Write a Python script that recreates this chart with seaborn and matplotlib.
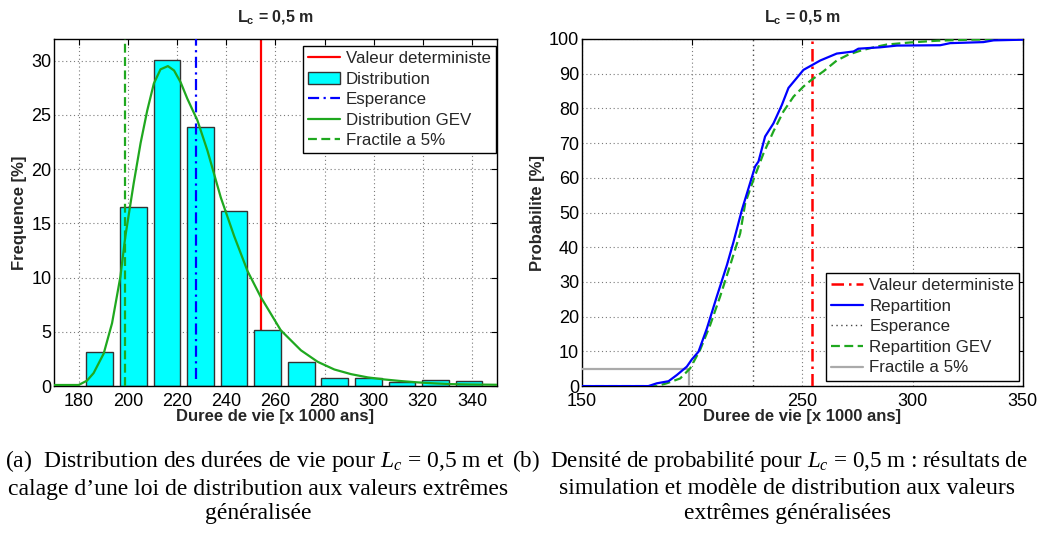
import matplotlib
matplotlib.use("Agg")
import matplotlib.pyplot as plt
from matplotlib.lines import Line2D
from matplotlib.patches import Patch
import pandas as pd
import seaborn as sns

# --- data ---
bin_centers = [188.6, 202.3, 215.9, 229.6, 243.2, 256.9, 270.6, 284.2, 297.9, 311.5, 325.2, 338.8]
freq_pct = [3.1, 16.5, 30.1, 23.9, 16.1, 5.15, 2.25, 0.7, 0.7, 0.4, 0.6, 0.5]

gev_pdf_x = [170, 180, 183.4, 186.1, 190.2, 193.6, 197.0, 199.0, 202.4, 205.2, 207.9, 210.6,
             213.3, 216.3, 218.8, 221.5, 224.2, 228.3, 232.4, 237.8, 243.3, 248.7, 254.1,
             262.2, 270.4, 277.2, 284.0, 290.8, 297.6, 304.4, 311.2, 318.0, 324.8, 331.6, 338.4, 350]
gev_pdf_y = [0.1, 0.1, 0.5, 1.2, 3.0, 5.8, 10.1, 13.8, 18.7, 22.4, 25.4, 27.9,
             29.2, 29.5, 29.1, 28.0, 26.5, 24.5, 21.7, 17.4, 13.8, 10.6, 8.2,
             5.15, 3.3, 2.24, 1.53, 1.1, 0.8, 0.61, 0.46, 0.34, 0.25, 0.18, 0.15, 0.12]

cdf_x = [150, 180.2, 184.0, 189.3, 193.1, 197.6, 199.9, 202.9, 206.7, 211.2, 215.8, 218.8,
         222.6, 226.3, 228.6, 230.1, 233.1, 236.9, 240.7, 243.7, 247.5, 250.5, 253.9,
         258.1, 265.6, 273.2, 275.4, 285.3, 292.9, 312.5, 317.0, 332.1, 336.7, 350]
cdf_y = [0, 0, 0.8, 1.4, 3.2, 5.6, 7.7, 9.9, 16.6, 25.8, 34.9, 41.6,
         50.8, 58.5, 63.3, 64.7, 71.9, 75.7, 81.0, 85.9, 88.8, 91.1, 92.3,
         93.8, 95.8, 96.4, 97.2, 97.6, 98.1, 98.2, 98.8, 99.1, 99.6, 99.8]

gev_cdf_x = [150, 184, 188.5, 194.6, 199.1, 203.6, 208.2, 212.7, 217.3, 221.8, 224.1, 227.8,
             232.4, 236.9, 241.4, 246.0, 250.5, 253.9, 259.6, 265.6, 270.9, 276.2, 282.3,
             288.3, 298.9, 311.0, 326.1, 350]
gev_cdf_y = [0, 0, 0.8, 2.2, 5.1, 10.4, 17.6, 25.8, 34.9, 44.0, 52.7, 59.4,
             67.1, 73.4, 79.1, 83.4, 86.3, 88.1, 90.7, 93.8, 95.5, 96.6, 97.6,
             98.4, 99.0, 99.5, 99.8, 100]

valeur_det = 254.2
esperance = 227.6
fractile_5 = 198.8
fractile_level = 5

sns.set_theme(style="white")
plt.rcParams["font.family"] = ["Liberation Sans", "DejaVu Sans"]
plt.rcParams["mathtext.fontset"] = "custom"
plt.rcParams["mathtext.rm"] = "Liberation Sans"
plt.rcParams["mathtext.bf"] = "Liberation Sans:bold"
plt.rcParams["mathtext.it"] = "Liberation Serif:italic"

fig = plt.figure(figsize=(10.39, 5.34), dpi=100)
ax1 = fig.add_axes([0.052, 0.277, 0.426, 0.650])
ax2 = fig.add_axes([0.560, 0.277, 0.4245, 0.650])

grid_kw = dict(color="#7a7a7a", linestyle=(0, (1, 2.5)), linewidth=0.8)
green = "#1fa81f"
tick_fs = 13
lab_fs = 12
leg_fs = 12.2
leg_kw = dict(fontsize=leg_fs, frameon=True, fancybox=False, edgecolor="black", framealpha=1,
              handlelength=1.9, handletextpad=0.35, labelspacing=0.33, borderpad=0.3,
              borderaxespad=0)


def style_axes(ax):
    ax.grid(True, **grid_kw)
    ax.set_axisbelow(True)
    for s in ax.spines.values():
        s.set_color("black")
        s.set_linewidth(1.0)
    ax.tick_params(direction="in", top=True, right=True, length=4, width=0.8,
                   labelsize=tick_fs, pad=2, colors="black")
    ax.tick_params(axis="x", pad=5)


# --- left: histogram + GEV pdf ---
ax1.axvline(valeur_det, color="red", linewidth=1.6, zorder=1)
hist_df = pd.DataFrame({"x": bin_centers, "y": freq_pct})
sns.barplot(data=hist_df, x="x", y="y", native_scale=True, width=0.8,
            color="#00ffff", saturation=1, edgecolor="#333333", linewidth=1.0, ax=ax1, zorder=2)
ax1.axvline(esperance, color="blue", linewidth=1.6, linestyle=(0, (5, 2, 1, 2)), ymin=0.02, zorder=3)
sns.lineplot(x=gev_pdf_x, y=gev_pdf_y, color=green, linewidth=1.6, ax=ax1, zorder=4)
ax1.axvline(fractile_5, color=green, linewidth=1.6, linestyle=(0, (4, 2)), zorder=4)
ax1.set_xlim(170, 350)
ax1.set_ylim(0, 32)
ax1.set_xticks(range(180, 341, 20))
ax1.set_yticks(range(0, 31, 5))
style_axes(ax1)
ax1.set_xlabel("Duree de vie [x 1000 ans]", fontsize=lab_fs, fontweight="bold", labelpad=-1)
ax1.set_ylabel("Frequence [%]", fontsize=lab_fs, fontweight="bold", labelpad=3)
ax1.set_title(r"$\mathbf{L_c}$ = 0,5 m", fontsize=11.5, fontweight="bold", pad=12)

h1 = [Line2D([], [], color="red", lw=1.6),
      Patch(facecolor="#00ffff", edgecolor="#333333"),
      Line2D([], [], color="blue", lw=1.6, ls=(0, (5, 2, 1, 2))),
      Line2D([], [], color=green, lw=1.6),
      Line2D([], [], color=green, lw=1.6, ls=(0, (4, 2)))]
l1 = ["Valeur deterministe", "Distribution", "Esperance", "Distribution GEV", "Fractile a 5%"]
leg1 = ax1.legend(h1, l1, loc="upper right", bbox_to_anchor=(0.9985, 0.98), **leg_kw)
leg1.get_frame().set_linewidth(1.0)

# --- right: CDFs ---
ax2.axvline(valeur_det, color="red", linewidth=1.8, linestyle=(0, (5, 2, 1, 2)), zorder=3)
sns.lineplot(x=cdf_x, y=cdf_y, color="blue", linewidth=1.6, ax=ax2, zorder=5)
ax2.axvline(esperance, color="#444444", linewidth=1.0, linestyle=(0, (1, 2.5)), zorder=2)
sns.lineplot(x=gev_cdf_x, y=gev_cdf_y, color=green, linewidth=1.6, linestyle=(0, (4, 2)), ax=ax2, zorder=4)
ax2.plot([150, fractile_5, fractile_5], [fractile_level, fractile_level, 0],
         color="#aaaaaa", linewidth=1.6, zorder=3)
ax2.set_xlim(150, 350)
ax2.set_ylim(0, 100)
ax2.set_xticks(range(150, 351, 50))
ax2.set_yticks(range(0, 101, 10))
style_axes(ax2)
ax2.set_xlabel("Duree de vie [x 1000 ans]", fontsize=lab_fs, fontweight="bold", labelpad=-1)
ax2.set_ylabel("Probabilite [%]", fontsize=lab_fs, fontweight="bold", labelpad=3)
ax2.set_title(r"$\mathbf{L_c}$ = 0,5 m", fontsize=11.5, fontweight="bold", pad=12)

h2 = [Line2D([], [], color="red", lw=1.8, ls=(0, (5, 2, 1, 2))),
      Line2D([], [], color="blue", lw=1.6),
      Line2D([], [], color="#444444", lw=1.0, ls=(0, (1, 2.5))),
      Line2D([], [], color=green, lw=1.6, ls=(0, (4, 2))),
      Line2D([], [], color="#aaaaaa", lw=1.6)]
l2 = ["Valeur deterministe", "Repartition", "Esperance", "Repartition GEV", "Fractile a 5%"]
leg2 = ax2.legend(h2, l2, loc="lower right", bbox_to_anchor=(0.992, 0.016), **leg_kw)
leg2.get_frame().set_linewidth(1.0)

# --- captions ---
cap_kw = dict(family=["Liberation Serif", "DejaVu Serif"], color="black")
fig.text(5 / 1039, 1 - 461 / 534, r"(a)  Distribution des durées de vie pour $L_c$ = 0,5 m et",
         ha="left", va="center", fontsize=17, **cap_kw)
fig.text(258 / 1039, 1 - 489 / 534, "calage d\u2019une loi de distribution aux valeurs extrêmes",
         ha="center", va="center", fontsize=17, **cap_kw)
fig.text(258 / 1039, 1 - 514 / 534, "généralisée", ha="center", va="center", fontsize=17, **cap_kw)
fig.text(512 / 1039, 1 - 461 / 534, r"(b)  Densité de probabilité pour $L_c$ = 0,5 m : résultats de",
         ha="left", va="center", fontsize=16.6, **cap_kw)
fig.text(787 / 1039, 1 - 489 / 534, "simulation et modèle de distribution aux valeurs",
         ha="center", va="center", fontsize=17, **cap_kw)
fig.text(787 / 1039, 1 - 514 / 534, "extrêmes généralisées", ha="center", va="center", fontsize=17, **cap_kw)

fig.savefig("out.png", dpi=100)
